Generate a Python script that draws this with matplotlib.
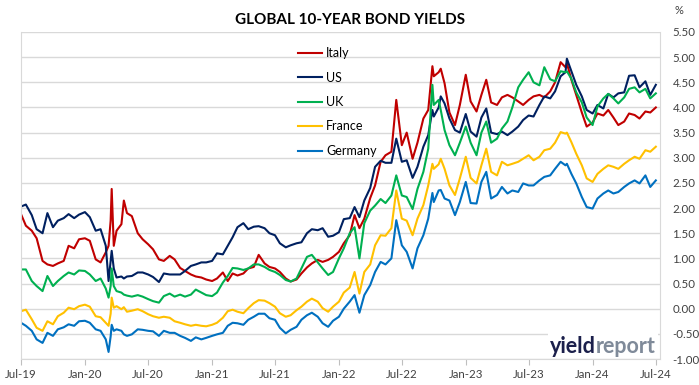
import numpy as np
import pandas as pd
import matplotlib
matplotlib.use('Agg')
import matplotlib.pyplot as plt
import matplotlib.dates as mdates
from matplotlib.patches import Rectangle
from matplotlib.text import Annotation

# observation dates: 1st and 15th of each month plus a few spike days
dates = pd.date_range('2019-07-01', '2024-07-01', freq='SMS').union(
    pd.to_datetime(['2020-03-09', '2020-03-18', '2020-03-24', '2020-04-22',
                    '2022-09-27', '2022-10-21', '2023-10-19']))

series_names = ['Italy', 'US', 'UK', 'France', 'Germany']

italy = [1.88, 1.65, 1.55, 1.40, 0.95, 0.88, 0.85, 0.90, 0.95, 1.25, 1.20, 1.38,
         1.40, 1.35, 0.98, 0.92, 1.12, 1.25, 1.75, 2.38, 1.25, 1.55, 1.68, 2.15, 1.90, 1.84,
         1.50, 1.38, 1.28, 1.18, 0.98, 0.95, 1.05, 0.98, 0.81, 0.75, 0.68, 0.64, 0.62, 0.58,
         0.55, 0.60, 0.72, 0.55, 0.70, 0.66, 0.70, 0.80, 0.83, 1.07, 0.90, 0.83,
         0.80, 0.73, 0.60, 0.54, 0.58, 0.70, 0.82, 0.90, 0.97, 0.93, 0.97, 1.03,
         1.13, 1.30, 1.46, 1.86, 1.60, 1.79, 2.20, 2.45, 2.92, 3.05, 3.12, 4.15, 3.25,
         3.50, 2.98, 3.30, 3.78, 3.95, 4.82, 4.62, 4.70, 4.77, 4.48, 3.90, 3.65, 4.05,
         4.65, 4.12, 3.92, 4.25, 4.55, 4.10, 4.05, 4.20, 4.25, 4.20, 4.12, 4.05, 4.15,
         4.22, 4.25, 4.20, 4.32, 4.50, 4.90, 4.80, 4.88, 4.55, 4.25, 3.90, 3.62,
         3.70, 3.88, 3.84, 3.95, 3.80, 3.65, 3.72, 3.88, 3.85, 3.78, 3.92, 3.90, 4.00]

us = [2.03, 2.07, 1.86, 1.58, 1.50, 1.90, 1.62, 1.75, 1.80, 1.88, 1.80, 1.87,
      1.92, 1.82, 1.55, 1.58, 1.25, 0.55, 0.95, 1.15, 0.80, 0.62, 0.64, 0.60, 0.64, 0.65,
      0.72, 0.72, 0.68, 0.63, 0.53, 0.70, 0.68, 0.68, 0.68, 0.75, 0.85, 0.88, 0.92, 0.92,
      0.95, 1.10, 1.08, 1.25, 1.42, 1.62, 1.70, 1.58, 1.63, 1.64, 1.60, 1.50,
      1.46, 1.30, 1.22, 1.26, 1.30, 1.32, 1.50, 1.58, 1.56, 1.60, 1.43, 1.45,
      1.52, 1.78, 1.80, 2.02, 1.82, 2.15, 2.40, 2.82, 2.94, 2.90, 2.90, 3.38, 2.92,
      2.95, 2.60, 2.82, 3.22, 3.45, 3.95, 3.82, 4.00, 4.22, 4.08, 3.78, 3.55, 3.50,
      3.87, 3.52, 3.42, 3.80, 3.98, 3.50, 3.47, 3.52, 3.45, 3.52, 3.62, 3.75, 3.84,
      3.82, 4.05, 4.22, 4.18, 4.32, 4.62, 4.70, 4.97, 4.72, 4.45, 4.22, 3.95,
      3.88, 4.05, 3.98, 4.27, 4.20, 4.28, 4.30, 4.63, 4.64, 4.40, 4.52, 4.25, 4.45]

uk = [0.78, 0.78, 0.55, 0.45, 0.35, 0.65, 0.45, 0.55, 0.65, 0.72, 0.68, 0.76,
      0.75, 0.68, 0.55, 0.60, 0.40, 0.22, 0.45, 0.80, 0.45, 0.35, 0.32, 0.28, 0.26, 0.24,
      0.27, 0.24, 0.19, 0.15, 0.12, 0.25, 0.30, 0.24, 0.28, 0.24, 0.28, 0.38, 0.32, 0.27,
      0.25, 0.32, 0.52, 0.65, 0.81, 0.80, 0.77, 0.80, 0.88, 0.88, 0.83, 0.77,
      0.73, 0.67, 0.57, 0.54, 0.60, 0.80, 1.03, 1.07, 0.92, 0.80, 0.67, 0.73,
      1.00, 1.20, 1.50, 1.62, 1.00, 1.70, 1.95, 2.05, 2.18, 2.10, 2.25, 2.65, 2.25,
      2.22, 1.98, 2.38, 2.72, 3.18, 4.45, 4.05, 4.15, 3.95, 3.55, 3.25, 3.05, 3.30,
      3.62, 3.30, 3.05, 3.50, 3.72, 3.30, 3.38, 3.58, 3.72, 4.00, 4.40, 4.55, 4.70,
      4.50, 4.44, 4.80, 4.56, 4.52, 4.72, 4.70, 4.72, 4.57, 4.30, 4.10, 3.80,
      3.65, 4.02, 4.18, 4.27, 4.18, 4.08, 4.20, 4.37, 4.40, 4.30, 4.37, 4.18, 4.28]

france = [-0.05, -0.02, -0.21, -0.38, -0.44, -0.25, -0.31, -0.15, -0.08, 0.02, -0.01, 0.05,
          0.08, 0.04, -0.15, -0.17, -0.28, -0.34, -0.10, 0.22, 0.02, 0.05, -0.01, 0.03, -0.06, -0.04,
          -0.01, -0.05, -0.11, -0.15, -0.18, -0.16, -0.18, -0.25, -0.28, -0.31, -0.34, -0.32, -0.34, -0.35,
          -0.32, -0.28, -0.18, -0.05, -0.02, -0.06, -0.09, 0.01, 0.11, 0.17, 0.16, 0.11,
          0.04, -0.09, -0.16, -0.13, -0.03, 0.04, 0.14, 0.20, 0.14, 0.01, -0.06, 0.04,
          0.14, 0.32, 0.42, 0.73, 0.30, 0.73, 0.88, 1.26, 1.46, 1.45, 1.60, 2.35, 1.79,
          1.75, 1.46, 1.79, 2.06, 2.45, 2.88, 2.78, 2.87, 2.98, 2.78, 2.45, 2.26, 2.59,
          3.02, 2.60, 2.49, 2.85, 3.18, 2.72, 2.65, 2.92, 2.85, 2.88, 2.92, 2.98, 3.05,
          2.95, 3.02, 3.15, 3.18, 3.30, 3.51, 3.48, 3.50, 3.31, 3.08, 2.85, 2.59,
          2.52, 2.68, 2.78, 2.85, 2.82, 2.78, 2.88, 2.95, 3.02, 2.98, 3.15, 3.12, 3.22]

germany = [-0.28, -0.34, -0.44, -0.61, -0.68, -0.48, -0.54, -0.41, -0.37, -0.31, -0.34, -0.25,
           -0.24, -0.28, -0.41, -0.44, -0.61, -0.86, -0.55, -0.32, -0.44, -0.41, -0.44, -0.51, -0.54, -0.51,
           -0.41, -0.42, -0.44, -0.45, -0.54, -0.44, -0.48, -0.48, -0.54, -0.58, -0.64, -0.57, -0.61, -0.58,
           -0.54, -0.51, -0.48, -0.34, -0.28, -0.29, -0.32, -0.22, -0.16, -0.10, -0.10, -0.19,
           -0.22, -0.38, -0.49, -0.42, -0.36, -0.22, -0.13, -0.08, -0.16, -0.29, -0.36, -0.24,
           -0.16, 0.00, 0.14, 0.27, -0.08, 0.27, 0.47, 0.73, 0.93, 0.88, 1.00, 1.76, 1.26,
           1.13, 0.80, 1.20, 1.46, 1.79, 2.30, 2.12, 2.35, 2.36, 2.19, 2.15, 1.86, 2.12,
           2.52, 2.10, 2.09, 2.52, 2.72, 2.19, 2.26, 2.42, 2.29, 2.35, 2.32, 2.49, 2.45,
           2.45, 2.55, 2.62, 2.65, 2.78, 2.92, 2.85, 2.88, 2.68, 2.49, 2.22, 2.02,
           1.99, 2.19, 2.29, 2.35, 2.29, 2.32, 2.42, 2.49, 2.55, 2.49, 2.65, 2.42, 2.55]

colors = ['#C00000', '#002060', '#00B050', '#FFC000', '#0070C0']
ytick_vals = np.arange(-1.0, 5.51, 0.5)

plt.rcParams['font.family'] = ['Lato', 'DejaVu Sans']

fig = plt.figure(figsize=(6.99, 3.85), dpi=100)
ax = fig.add_axes([21 / 699, 1 - 359 / 385, (660 - 21) / 699, (359 - 32) / 385])

for name, vals, c in zip(series_names, [italy, us, uk, france, germany], colors):
    ax.plot(dates, vals, color=c, lw=1.5, label=name)

ax.set_xlim(pd.Timestamp('2019-07-01'), pd.Timestamp('2024-07-13'))
ax.set_ylim(-1.0, 5.5)
ax.set_yticks(ytick_vals)
ax.set_yticklabels(['%.2f' % v for v in ytick_vals])
ax.yaxis.tick_right()
ax.tick_params(axis='y', length=0, pad=9, labelsize=8.3, colors='#404040')

ax.xaxis.set_major_locator(mdates.MonthLocator(bymonth=[1, 7]))
ax.xaxis.set_major_formatter(mdates.DateFormatter('%b-%y'))
ax.tick_params(axis='x', length=4, color='#BFBFBF', labelsize=8.3,
               labelcolor='#404040', pad=3)

ax.grid(axis='y', color='#D9D9D9', lw=1)
ax.set_axisbelow(True)
ax.spines['top'].set_visible(False)
for s in ['left', 'right', 'bottom']:
    ax.spines[s].set_color('#D9D9D9')

ax.legend(loc='upper left', bbox_to_anchor=(298 / 699, 1 - 47 / 385),
          bbox_transform=fig.transFigure, frameon=False, fontsize=9,
          handlelength=1.9, handletextpad=0.35, labelspacing=1.0,
          borderpad=0, borderaxespad=0)

fig.text(350 / 699, 1 - 20 / 385, 'GLOBAL 10-YEAR BOND YIELDS', ha='center',
         va='center', fontsize=11, fontweight='bold', color='black')
fig.text(679 / 699, 1 - 10 / 385, '%', ha='center', va='center',
         fontsize=8, color='#404040')

# logo box in the bottom right corner
fig.add_artist(Rectangle((548 / 699, 1 - 358 / 385), 110 / 699, 27 / 385,
                         transform=fig.transFigure, facecolor='white',
                         edgecolor='none', zorder=3))
t1 = fig.text(550 / 699, 1 - 353 / 385, 'yield', fontsize=15.5, fontweight='bold',
              color='#1B1F4B', va='baseline', zorder=4)
fig.add_artist(Annotation('report', xy=(1, 0), xycoords=t1, va='bottom', ha='left',
                          fontsize=15.5, fontweight='bold', color='#7F8A99',
                          annotation_clip=False, zorder=4))

fig.savefig('out.png', dpi=100)
